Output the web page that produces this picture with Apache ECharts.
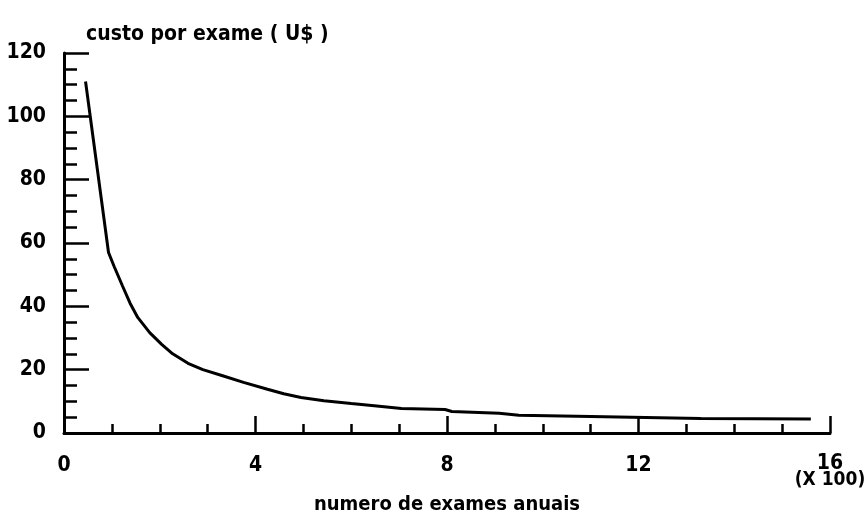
<!DOCTYPE html>
<html>
<head>
<meta charset="utf-8">
<script src="https://cdn.jsdelivr.net/npm/echarts@6/dist/echarts.min.js"></script>
<style>html,body{margin:0;padding:0;background:#fff}#c{width:867px;height:517px}</style>
</head>
<body>
<div id="c"></div>
<script>
// exams per year (x 100) and cost per exam (US$)
const exams = [0.45, 0.93, 1.05, 1.22, 1.38, 1.54, 1.79, 2.04, 2.27, 2.59, 2.9, 3.33, 3.75, 4.25, 4.59, 4.95, 5.43, 6.0, 6.48, 7.05, 7.96, 8.1, 9.09, 9.5, 11.0, 13.3, 15.6];
const cost  = [111, 57, 52.5, 46.5, 41, 36.5, 31.7, 28, 25, 22, 20, 18, 16, 13.8, 12.4, 11.2, 10.2, 9.3, 8.6, 7.7, 7.4, 6.8, 6.2, 5.6, 5.2, 4.6, 4.4];
const xTicks = [0, 4, 8, 12, 16];
const yTicks = [0, 20, 40, 60, 80, 100, 120];
const yTitle = 'custo por exame ( U$ )';
const xTitle = 'numero de exames anuais';
const xUnit = '(X 100)';

const FONT = '"Liberation Sans Narrow", "DejaVu Sans Condensed", "DejaVu Sans", sans-serif';
const chart = echarts.init(document.getElementById('c'));
chart.setOption({
  animation: false,
  backgroundColor: '#fff',
  grid: { left: 64, right: 37, top: 53, bottom: 84, containLabel: false, outerBoundsMode: 'none' },
  xAxis: {
    type: 'value', min: xTicks[0], max: xTicks[xTicks.length - 1], interval: 4,
    name: xTitle, nameLocation: 'middle', nameGap: 59,
    nameTextStyle: { fontFamily: FONT, fontWeight: 'bold', fontSize: 20, color: '#000' },
    axisLine: { show: true, lineStyle: { color: '#000', width: 3 } },
    axisTick: { inside: true, length: 17, lineStyle: { color: '#000', width: 2.5 } },
    minorTick: { show: true, splitNumber: 4, length: 9, lineStyle: { color: '#000', width: 2.5 } },
    splitLine: { show: false },
    axisLabel: {
      margin: 22, color: '#000',
      fontFamily: FONT, fontWeight: 'bold', fontSize: 21,
      formatter: v => v === 16 ? '{a|16}\n{b|' + xUnit + '}' : String(v),
      rich: {
        a: { fontFamily: FONT, fontWeight: 'bold', fontSize: 21, lineHeight: 17, color: '#000' },
        b: { fontFamily: FONT, fontWeight: 'bold', fontSize: 19, lineHeight: 17, color: '#000' }
      }
    }
  },
  yAxis: {
    type: 'value', min: yTicks[0], max: yTicks[yTicks.length - 1], interval: 20,
    name: yTitle, nameLocation: 'end', nameGap: 8,
    nameTextStyle: { fontFamily: FONT, fontWeight: 'bold', fontSize: 21, color: '#000', align: 'left', padding: [0, 0, 0, 22] },
    axisLine: { show: true, lineStyle: { color: '#000', width: 3 } },
    axisTick: { inside: true, length: 25, lineStyle: { color: '#000', width: 2.5 } },
    minorTick: { show: true, splitNumber: 4, length: 13, lineStyle: { color: '#000', width: 2.5 } },
    splitLine: { show: false },
    axisLabel: { margin: 18, color: '#000', fontFamily: FONT, fontWeight: 'bold', fontSize: 21 }
  },
  series: [{
    type: 'line',
    data: exams.map((x, i) => [x, cost[i]]),
    showSymbol: false,
    lineStyle: { color: '#000', width: 3 }
  }]
});
</script>
</body>
</html>
